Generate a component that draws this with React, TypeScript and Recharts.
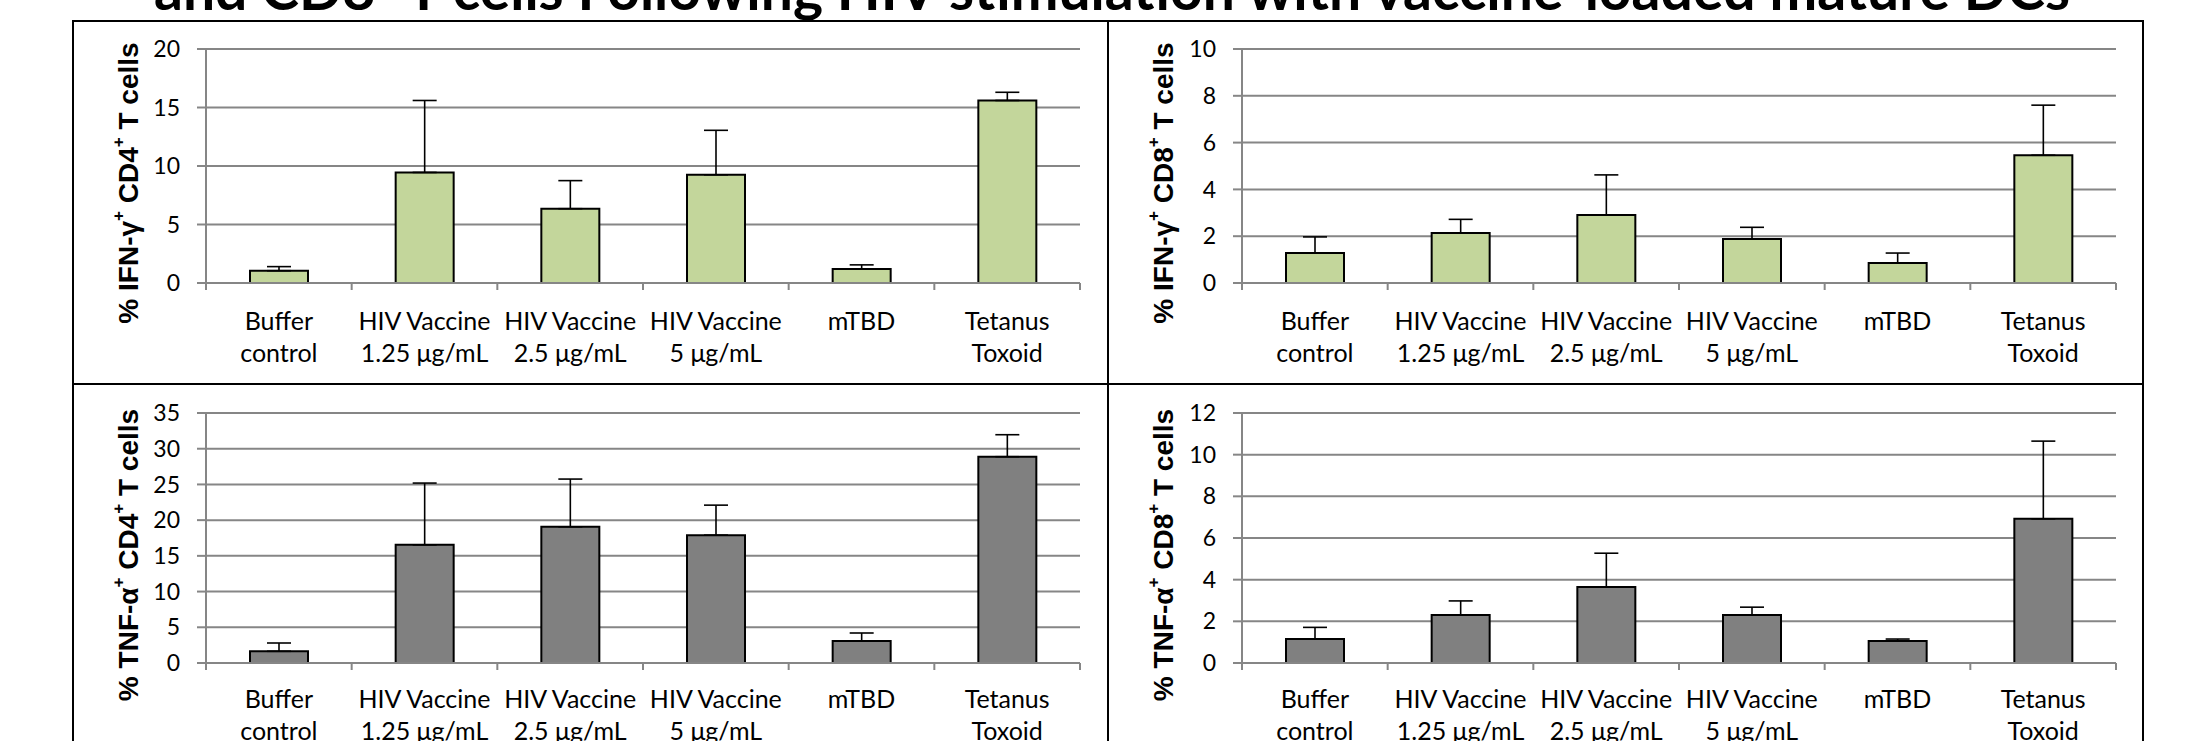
import { Bar, BarChart, CartesianGrid, ErrorBar, Label, XAxis, YAxis } from "recharts";

// categories shared by all four panels (second line after \n)
const categories = [
  "Buffer\ncontrol",
  "HIV Vaccine\n1.25 μg/mL",
  "HIV Vaccine\n2.5 μg/mL",
  "HIV Vaccine\n5 μg/mL",
  "mTBD",
  "Tetanus\nToxoid",
];

// % IFN-γ+ CD4+ T cells
const ifnCd4 = [1.05, 9.45, 6.35, 9.25, 1.2, 15.6];
const ifnCd4Err = [0.35, 6.15, 2.4, 3.8, 0.35, 0.7];
// % IFN-γ+ CD8+ T cells
const ifnCd8 = [1.28, 2.14, 2.91, 1.88, 0.86, 5.46];
const ifnCd8Err = [0.69, 0.58, 1.71, 0.5, 0.42, 2.14];
// % TNF-α+ CD4+ T cells
const tnfCd4 = [1.64, 16.54, 19.07, 17.9, 3.08, 28.88];
const tnfCd4Err = [1.16, 8.65, 6.68, 4.2, 1.12, 3.08];
// % TNF-α+ CD8+ T cells
const tnfCd8 = [1.15, 2.31, 3.65, 2.31, 1.06, 6.92];
const tnfCd8Err = [0.56, 0.67, 1.62, 0.37, 0.09, 3.73];

const ticksIfnCd4 = [0, 5, 10, 15, 20];
const ticksIfnCd8 = [0, 2, 4, 6, 8, 10];
const ticksTnfCd4 = [0, 5, 10, 15, 20, 25, 30, 35];
const ticksTnfCd8 = [0, 2, 4, 6, 8, 10, 12];

const title = "and CD8⁺ T cells Following HIV stimulation with vaccine-loaded mature DCs";

const GREEN = "#c3d69b";
const GREY = "#808080";
const GRID = "#868686";
const TICK_FONT = "Lato, 'Open Sans', sans-serif";
const LABEL_FONT = "'Liberation Sans', Arial, sans-serif";

const PLOT_W = 874;

const buildRows = (values: number[], errs: number[]) =>
  categories.map((c, i) => ({ name: c, value: values[i], err: [0, errs[i]] }));

function CategoryTick(props: any) {
  const { x, y, payload, index, lineGap, firstOffset } = props;
  const band = PLOT_W / categories.length;
  const lines = String(payload.value).split("\n");
  return (
    <g>
      <line x1={x - band / 2} x2={x - band / 2} y1={y} y2={y + 7} stroke={GRID} strokeWidth={2} />
      {index === categories.length - 1 && (
        <line x1={x + band / 2} x2={x + band / 2} y1={y} y2={y + 7} stroke={GRID} strokeWidth={2} />
      )}
      {lines.map((t, i) => (
        <text
          key={i}
          x={x}
          y={y + firstOffset + i * lineGap}
          textAnchor="middle"
          dominantBaseline="central"
          fontFamily={TICK_FONT}
          fontSize={25}
          fill="#000"
        >
          {t}
        </text>
      ))}
    </g>
  );
}

function AxisTitle({ viewBox, cyto, cd }: any) {
  const cx = viewBox.x + 55;
  const cy = viewBox.y + viewBox.height / 2 + 17;
  return (
    <text
      x={cx}
      y={cy}
      transform={`rotate(-90 ${cx} ${cy})`}
      textAnchor="middle"
      dominantBaseline="central"
      fontFamily={LABEL_FONT}
      fontWeight="bold"
      fontSize={28}
      fill="#000"
    >
      % {cyto}
      <tspan dy={-10} fontSize={17}>+</tspan>
      <tspan dy={10}> {cd}</tspan>
      <tspan dy={-10} fontSize={17}>+</tspan>
      <tspan dy={10}> T cells</tspan>
    </text>
  );
}

interface PanelProps {
  left: number;
  top: number;
  width: number;
  height: number;
  margin: { top: number; right: number; left: number; bottom: number };
  yWidth: number;
  xHeight: number;
  values: number[];
  errs: number[];
  ticks: number[];
  fill: string;
  cyto: string;
  cd: string;
  firstOffset: number;
}

function Panel(p: PanelProps) {
  const data = buildRows(p.values, p.errs);
  const max = p.ticks[p.ticks.length - 1];
  return (
    <div style={{ position: "absolute", left: p.left, top: p.top }}>
      <BarChart
        width={p.width}
        height={p.height}
        data={data}
        margin={p.margin}
        barCategoryGap="30%"
      >
        <CartesianGrid yAxisId="l" vertical={false} stroke={GRID} strokeWidth={2} />
        <XAxis
          dataKey="name"
          interval={0}
          height={p.xHeight}
          axisLine={{ stroke: GRID, strokeWidth: 2 }}
          tickLine={false}
          tickSize={0}
          tickMargin={0}
          tick={<CategoryTick lineGap={32} firstOffset={p.firstOffset} />}
        />
        <YAxis
          yAxisId="l"
          width={p.yWidth}
          domain={[0, max]}
          ticks={p.ticks}
          interval={0}
          axisLine={{ stroke: GRID, strokeWidth: 2 }}
          tickLine={{ stroke: GRID, strokeWidth: 2 }}
          tickSize={9}
          tickMargin={17}
          tick={{ fill: "#000", fontSize: 23, fontFamily: TICK_FONT }}
        >
          <Label content={<AxisTitle cyto={p.cyto} cd={p.cd} />} />
        </YAxis>
        <YAxis
          yAxisId="r"
          orientation="right"
          width={0}
          domain={[0, max]}
          ticks={p.ticks}
          tick={false}
          tickLine={false}
          axisLine={{ stroke: GRID, strokeWidth: 2 }}
        />
        <Bar
          yAxisId="l"
          dataKey="value"
          fill={p.fill}
          stroke="#000"
          strokeWidth={2}
          barSize={58}
          isAnimationActive={false}
        >
          <ErrorBar dataKey="err" width={12} stroke="#000" strokeWidth={1.6} />
        </Bar>
      </BarChart>
    </div>
  );
}

export default function App() {
  return (
    <div
      style={{
        position: "absolute",
        left: 0,
        top: 0,
        width: 2200,
        height: 741,
        overflow: "hidden",
        background: "#fff",
      }}
    >
      <svg width={2200} height={40} style={{ position: "absolute", left: 0, top: 0 }}>
        <text
          x={1112}
          y={10}
          textAnchor="middle"
          fontFamily={TICK_FONT}
          fontWeight="bold"
          fontSize={57}
          fill="#000"
        >
          {title}
        </text>
      </svg>
      {/* outer frame and dividers */}
      <div
        style={{
          position: "absolute",
          left: 72,
          top: 20,
          width: 2068,
          height: 760,
          border: "2px solid #000",
        }}
      />
      <div style={{ position: "absolute", left: 1107, top: 20, width: 2, height: 741, background: "#000" }} />
      <div style={{ position: "absolute", left: 72, top: 383, width: 2070, height: 2, background: "#000" }} />

      <Panel
        left={73}
        top={21}
        width={1035}
        height={363}
        margin={{ top: 28, right: 28, left: 0, bottom: 0 }}
        yWidth={133}
        xHeight={101}
        values={ifnCd4}
        errs={ifnCd4Err}
        ticks={ticksIfnCd4}
        fill={GREEN}
        cyto="IFN-γ"
        cd="CD4"
        firstOffset={37}
      />
      <Panel
        left={1108}
        top={21}
        width={1035}
        height={363}
        margin={{ top: 28, right: 27, left: 0, bottom: 0 }}
        yWidth={134}
        xHeight={101}
        values={ifnCd8}
        errs={ifnCd8Err}
        ticks={ticksIfnCd8}
        fill={GREEN}
        cyto="IFN-γ"
        cd="CD8"
        firstOffset={37}
      />
      <Panel
        left={73}
        top={384}
        width={1035}
        height={357}
        margin={{ top: 29, right: 28, left: 0, bottom: 0 }}
        yWidth={133}
        xHeight={78}
        values={tnfCd4}
        errs={tnfCd4Err}
        ticks={ticksTnfCd4}
        fill={GREY}
        cyto="TNF-α"
        cd="CD4"
        firstOffset={35}
      />
      <Panel
        left={1108}
        top={384}
        width={1035}
        height={357}
        margin={{ top: 29, right: 27, left: 0, bottom: 0 }}
        yWidth={134}
        xHeight={78}
        values={tnfCd8}
        errs={tnfCd8Err}
        ticks={ticksTnfCd8}
        fill={GREY}
        cyto="TNF-α"
        cd="CD8"
        firstOffset={35}
      />
    </div>
  );
}
